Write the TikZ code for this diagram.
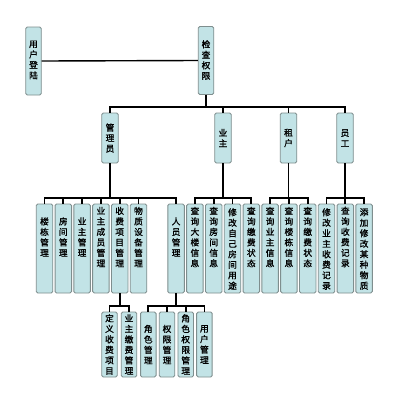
\documentclass[tikz,border=0pt]{standalone}
\usepackage{fontspec}
\setmainfont{Noto Sans CJK SC}[FakeBold=1.2]
\definecolor{boxfill}{HTML}{C2E3E6}
\definecolor{boxline}{HTML}{7F8E8E}
\begin{document}
\begin{tikzpicture}[x=1pt,y=-1pt,
  box/.style={draw=boxline, fill=boxfill, line width=0.9pt, rounded corners=1.5pt, inner sep=0pt},
  txt/.style={align=center, font=\fontsize{8.7}{10.5}\selectfont, inner sep=0pt},
  conn/.style={line width=1.7pt}]
\useasboundingbox[fill=white] (0,0) rectangle (400,400);
% helper: name, x, ycenter, width, height, textcenter, text
\newcommand\orgbox[7]{%
  \node[box, minimum width=#4pt, minimum height=#5pt] (#1) at (#2,#3) {};
  \node[txt] (#1t) at (#2,#6) {#7};}
% top
\orgbox{login}{33.5}{61}{15.5}{68}{60}{用\\户\\登\\陆}
\orgbox{check}{206}{60.5}{15.5}{68}{60}{检\\查\\权\\限}
% roles
\orgbox{admin}{110}{138}{16.5}{50}{138}{管\\理\\员}
\orgbox{owner}{223}{138}{16.5}{50}{138}{业\\主}
\orgbox{tenant}{288.5}{138}{16.5}{50}{138}{租\\户}
\orgbox{staff}{345}{138}{16.5}{50}{138}{员\\工}
% middle row
\orgbox{m1}{44.5}{248.5}{16.5}{89}{237}{楼\\栋\\管\\理}
\orgbox{m2}{63.3}{248.5}{16.5}{89}{237}{房\\间\\管\\理}
\orgbox{m3}{82.1}{248.5}{16.5}{89}{237}{业\\主\\管\\理}
\orgbox{m4}{100.9}{248.5}{16.5}{89}{237}{业\\主\\成\\员\\管\\理}
\orgbox{m5}{119.7}{248.5}{16.5}{89}{237}{收\\费\\项\\目\\管\\理}
\orgbox{m6}{138.5}{248.5}{16.5}{89}{237}{物\\质\\设\\备\\管\\理}
\orgbox{m7}{176.1}{248.5}{16.5}{89}{237}{人\\员\\管\\理}
\orgbox{o1}{194.9}{248.5}{16.5}{89}{237}{查\\询\\大\\楼\\信\\息}
\orgbox{o2}{213.7}{248.5}{16.5}{89}{237}{查\\询\\房\\间\\信\\息}
\orgbox{o3}{232.5}{248.5}{16.5}{89}{249}{修\\改\\自\\己\\房\\间\\用\\途}
\orgbox{o4}{251.3}{248.5}{16.5}{89}{237}{查\\询\\缴\\费\\状\\态}
\orgbox{r1}{270.1}{248.5}{16.5}{89}{237}{查\\询\\业\\主\\信\\息}
\orgbox{r2}{288.9}{248.5}{16.5}{89}{237}{查\\询\\楼\\栋\\信\\息}
\orgbox{r3}{307.7}{248.5}{16.5}{89}{237}{查\\询\\缴\\费\\状\\态}
\orgbox{s1}{326.5}{248.5}{16.5}{89}{249}{修\\改\\业\\主\\收\\费\\记\\录}
\orgbox{s2}{345.3}{248.5}{16.5}{89}{237}{查\\询\\收\\费\\记\\录}
\orgbox{s3}{364.1}{248.5}{16.5}{89}{249}{添\\加\\修\\改\\某\\种\\物\\质}
% bottom row
\orgbox{f1}{109.5}{344.5}{15.5}{65}{344.5}{定\\义\\收\\费\\项\\目}
\orgbox{f2}{129}{344.5}{15.5}{65}{344.5}{业\\主\\缴\\费\\管\\理}
\orgbox{p1}{148.3}{344.5}{15.5}{65}{344.5}{角\\色\\管\\理}
\orgbox{p2}{167}{344.5}{15.5}{65}{344.5}{权\\限\\管\\理}
\orgbox{p3}{185.7}{344.5}{15.5}{65}{344.5}{角\\色\\权\\限\\管\\理}
\orgbox{p4}{204.4}{344.5}{15.5}{65}{344.5}{用\\户\\管\\理}
% junctions
\coordinate (jc) at (check.south |- 0,107);
\coordinate (ja) at (admin.south |- 0,198);
\coordinate (jo) at (owner.south |- 0,198);
\coordinate (jt) at (tenant.south |- 0,198);
\coordinate (js) at (staff.south |- 0,198);
\coordinate (jf) at (m5.south |- 0,306);
\coordinate (jp) at (m7.south |- 0,306);
\draw[line width=1.4pt] (login.east) -- (check.west);
\draw[conn] (check.south) -- (jc);
\foreach \c in {admin,owner,tenant,staff} \draw[conn] (jc) -| (\c.north);
\draw[conn] (admin.south) -- (ja);
\foreach \c in {m1,m2,m3,m4,m5,m6,m7} \draw[conn] (ja) -| (\c.north);
\draw[conn] (owner.south) -- (jo);
\foreach \c in {o1,o2,o3,o4} \draw[conn] (jo) -| (\c.north);
\draw[conn] (tenant.south) -- (jt);
\foreach \c in {r1,r2,r3} \draw[conn] (jt) -| (\c.north);
\draw[conn] (staff.south) -- (js);
\foreach \c in {s1,s2,s3} \draw[conn] (js) -| (\c.north);
\draw[conn] (m5.south) -- (jf);
\foreach \c in {f1,f2} \draw[conn] (jf) -| (\c.north);
\draw[conn] (m7.south) -- (jp);
\foreach \c in {p1,p2,p3,p4} \draw[conn] (jp) -| (\c.north);
\end{tikzpicture}
\end{document}
